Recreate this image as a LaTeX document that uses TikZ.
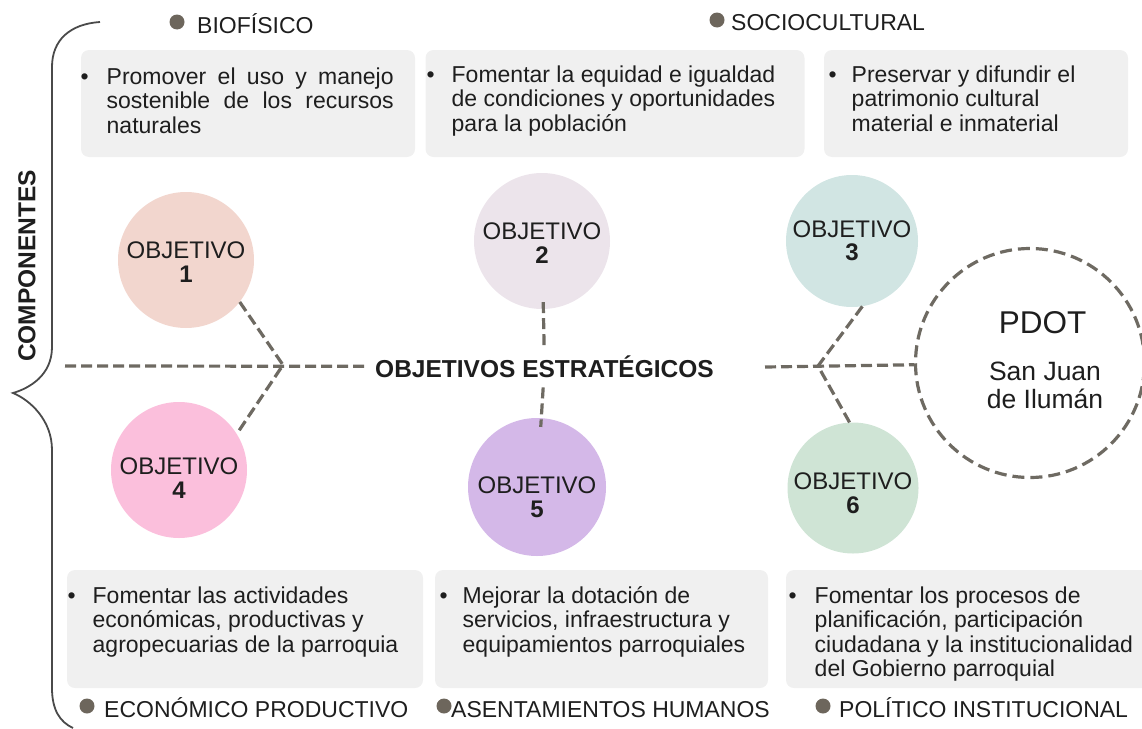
\documentclass[tikz,border=0pt]{standalone}
\usepackage{fontspec}
\setmainfont{Liberation Sans}

\definecolor{gristexto}{HTML}{1E1E1E}
\definecolor{panelgris}{HTML}{F0F0F0}
\definecolor{lineagris}{HTML}{6E6A62}
\definecolor{puntogris}{HTML}{6D665C}
\definecolor{llavegris}{HTML}{4A4A4A}
\definecolor{obja}{HTML}{F2D6CE}
\definecolor{objb}{HTML}{ECE4EB}
\definecolor{objc}{HTML}{D1E5E3}
\definecolor{objd}{HTML}{FBBFDC}
\definecolor{obje}{HTML}{D4B8E8}
\definecolor{objf}{HTML}{CFE4D5}

% viñeta: sangría y ancho del bloque de texto
\newcommand{\vineta}[3]{\makebox[#1][l]{\textbullet}\parbox[t]{#2}{#3}}

\begin{document}
\begin{tikzpicture}[x=1pt, y=-1pt, font=\fontsize{23}{24.5}\selectfont]

    % Estilos del esquema
    \tikzset{
        panel/.style={fill=panelgris, rounded corners=8pt, inner sep=0pt},
        texto/.style={anchor=base west, inner sep=0pt, text=gristexto},
        objcirc/.style={circle, inner sep=0pt},
        objtexto/.style={align=center, inner sep=0pt, text=gristexto,
            font=\fontsize{24}{23.5}\selectfont},
        raya/.style={draw=lineagris, line width=3.2pt, dash pattern=on 11pt off 5pt},
        punto/.style={circle, fill=puntogris, minimum size=15pt, inner sep=0pt},
        tema/.style={anchor=base west, inner sep=0pt, text=gristexto}
    }

    \useasboundingbox (0,0) rectangle (1142,728);

    % Llave de los componentes
    \draw[llavegris, line width=1.8pt] (100,22) .. controls (70,24) and (52,40) .. (52,67)
        -- (52,347) .. controls (52,375) and (30,388) .. (13,393)
        .. controls (30,400) and (52,420) .. (52,450)
        -- (52,688) .. controls (52,710) and (60,722) .. (73,728);
    \node[rotate=90, font=\fontsize{24.5}{26}\selectfont\bfseries, text=gristexto] (comp) at (27,266) {COMPONENTES};

    % Componentes superiores
    \node[punto] (pbio) at (177,22) {};
    \node[tema] (bio) at (197,33) {BIOFÍSICO};
    \node[punto] (psoc) at (717,20) {};
    \node[tema] (soc) at (731,30) {SOCIOCULTURAL};

    % Recuadros superiores
    \node[panel, minimum width=334pt, minimum height=107pt] (p1) at (248,103.5) {};
    \node[panel, minimum width=379pt, minimum height=107pt] (p2) at (615,103.5) {};
    \node[panel, minimum width=304pt, minimum height=107pt] (p3) at (976,103.5) {};

    \node[texto] (t1) at (80.5,84)
        {\vineta{26pt}{287pt}{Promover el uso y manejo\linebreak sostenible de los recursos\linebreak naturales}};
    \node[texto] (t2) at (426.5,82)
        {\vineta{25pt}{350pt}{\raggedright Fomentar la equidad e igualdad\\de condiciones y oportunidades\\para la población}};
    \node[texto] (t3) at (828.5,82)
        {\vineta{23pt}{270pt}{\raggedright Preservar y difundir el\\patrimonio cultural\\material e inmaterial}};

    % Objetivos
    \node[objcirc, fill=obja, minimum size=136pt] (c1) at (186,260) {};
    \node[objcirc, fill=objb, minimum size=136pt] (c2) at (542,241) {};
    \node[objcirc, fill=objc, minimum size=132pt] (c3) at (852,241) {};
    \node[objcirc, fill=objd, minimum size=136pt] (c4) at (179,470) {};
    \node[objcirc, fill=obje, minimum size=138pt] (c5) at (537,487) {};
    \node[objcirc, fill=objf, minimum size=131pt] (c6) at (853,488) {};

    \node[objtexto] (l1) at ([yshift=-2pt]c1.center) {OBJETIVO\\\textbf{1}};
    \node[objtexto] (l2) at ([yshift=-2pt]c2.center) {OBJETIVO\\\textbf{2}};
    \node[objtexto] (l3) at (c3.center) {OBJETIVO\\\textbf{3}};
    \node[objtexto] (l4) at ([yshift=-8pt]c4.center) {OBJETIVO\\\textbf{4}};
    \node[objtexto] (l5) at ([yshift=-10pt]c5.center) {OBJETIVO\\\textbf{5}};
    \node[objtexto] (l6) at ([yshift=-5pt]c6.center) {OBJETIVO\\\textbf{6}};

    % Titulo central
    \node[font=\fontsize{24.5}{26}\selectfont\bfseries, text=gristexto, inner xsep=8pt, inner ysep=10pt,
        anchor=base] (estrat) at (544.5,377) {OBJETIVOS ESTRATÉGICOS};

    % PDOT
    \node[circle, draw=lineagris, line width=3.2pt, dash pattern=on 12pt off 6pt,
        minimum size=229pt, inner sep=0pt] (pdot) at (1030,363) {};
    \node[anchor=base, font=\fontsize{31.5}{32}\selectfont, text=gristexto] (pdotsig) at (1042.5,333) {PDOT};
    \node[anchor=base, font=\fontsize{26.5}{30}\selectfont, text=gristexto] (sj) at (1045,380) {San Juan};
    \node[anchor=base, font=\fontsize{26.5}{30}\selectfont, text=gristexto] (di) at (1045,408) {de Ilumán};

    % Conectores
    \coordinate (inicio) at (65,366);
    \coordinate (jizq) at (283,365);
    \coordinate (jder) at (818,366);
    \coordinate (fin) at (765,367);

    \draw[raya] (inicio) -- (estrat.west);
    \draw[raya] (c1.-38) -- (jizq) -- (c4.32);
    \draw[raya, shorten <=-7pt] (c2) -- (estrat);
    \draw[raya, shorten >=-9pt] (estrat) -- (c5);
    \draw[raya] (c3.-81) -- (jder) -- (c6.93);
    \draw[raya] (fin) -- (pdot);

    % Recuadros inferiores
    \node[panel, minimum width=356pt, minimum height=118pt] (p4) at (245,629) {};
    \node[panel, minimum width=333pt, minimum height=118pt] (p5) at (601.5,629) {};
    \node[panel, minimum width=364pt, minimum height=118pt] (p6) at (968,629) {};

    \node[texto] (t4) at (67.5,603)
        {\vineta{25pt}{330pt}{\raggedright Fomentar las actividades\\económicas, productivas y\\agropecuarias de la parroquia}};
    \node[texto] (t5) at (439.5,603)
        {\vineta{23pt}{300pt}{\raggedright Mejorar la dotación de\\servicios, infraestructura y\\equipamientos parroquiales}};
    \node[texto] (t6) at (788.5,603)
        {\vineta{26pt}{340pt}{\raggedright Fomentar los procesos de\\planificación, participación\\ciudadana y la institucionalidad\\del Gobierno parroquial}};

    % Componentes inferiores
    \node[punto] (peco) at (87,706) {};
    \node[tema] (eco) at (104,717) {ECONÓMICO PRODUCTIVO};
    \node[punto] (pase) at (444,706) {};
    \node[tema] (ase) at (451,717) {ASENTAMIENTOS HUMANOS};
    \node[punto] (ppol) at (823,706) {};
    \node[tema] (pol) at (839,717) {POLÍTICO INSTITUCIONAL};

\end{tikzpicture}
\end{document}
